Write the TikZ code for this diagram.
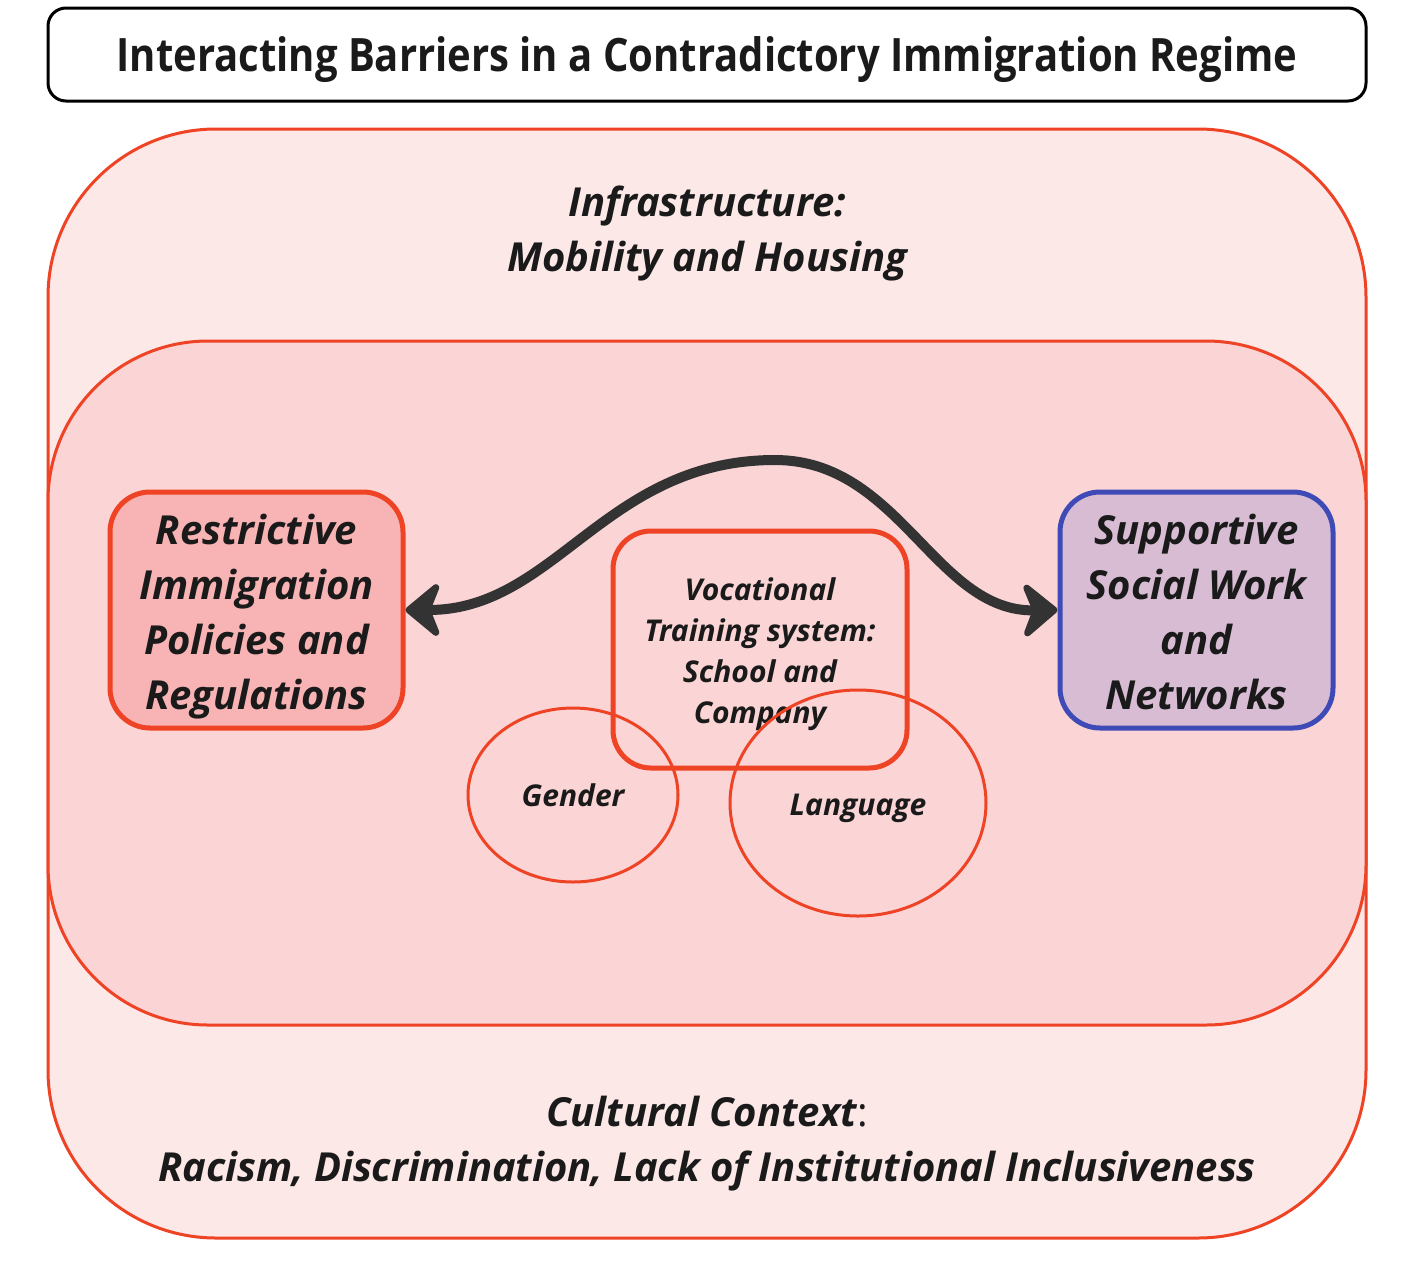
\documentclass[tikz,border=0pt]{standalone}
\usepackage{fontspec}
\setmainfont{Open Sans}
\newfontfamily\titlefont[FakeStretch=0.87]{Open Sans}
\usepackage{xcolor}
\usepackage{tikz}
\usetikzlibrary{positioning, arrows.meta, shapes.geometric}

\definecolor{barred}{HTML}{EE4325}
\definecolor{barblue}{HTML}{3E4AB6}
\definecolor{outerpink}{HTML}{FDE8E8}
\definecolor{innerpink}{HTML}{FBD5D6}
\definecolor{restrpink}{HTML}{F8B4B4}
\definecolor{supplilac}{HTML}{D8BCD3}
\definecolor{arrowgray}{HTML}{333333}
\definecolor{ink}{HTML}{1A1A1A}

\begin{document}
\begin{tikzpicture}[x=1pt,y=-1pt,
    big/.style={font=\bfseries\itshape\fontsize{40}{55}\selectfont,text=ink,align=center},
    small/.style={font=\bfseries\itshape\fontsize{30}{41}\selectfont,text=ink,align=center},
    layer/.style={draw=barred,line width=3pt,rectangle,rounded corners=168pt,minimum width=1318pt,inner sep=0pt},
    barrier/.style={big,draw=barred,line width=5pt,rectangle,rounded corners=40pt,inner sep=0pt,
                    text height=198pt,text depth=0pt,minimum width=293pt,minimum height=236pt},
    factor/.style={small,draw=barred,line width=3pt,ellipse,inner sep=0pt},
    bigtip/.tip={Stealth[length=40pt,width=66pt,inset=13pt,round]}]
    \fill[white] (0,0) rectangle (1414,1286);
    \useasboundingbox (0,0) rectangle (1414,1286);

    % title
    \node[draw=black,line width=3pt,rounded corners=18pt,minimum width=1318pt,minimum height=93pt,
          text depth=0pt,font=\titlefont\bfseries\fontsize{46}{50}\selectfont,text=ink] (title) at (707,54.5)
          {Interacting Barriers in a Contradictory Immigration Regime};

    % nested contexts
    \node[layer,fill=outerpink,minimum height=1109pt] (outer) at (707,683.5) {};
    \node[layer,fill=innerpink,minimum height=684pt,rounded corners=160pt] (inner) at (707,683) {};

    \node[big] (infra) at (707,233) {Infrastructure:\\Mobility and Housing};
    \node[big] (culture) at (707,1144)
          {Cultural Context{\upshape\mdseries :}\\Racism, Discrimination, Lack of Institutional Inclusiveness};

    % actors
    \node[barrier,fill=restrpink] (restr) at (256.5,610)
          {Restrictive\\Immigration\\Policies and\\Regulations};
    \node[barrier,fill=supplilac,draw=barblue,minimum width=273pt] (supp) at (1196.5,610)
          {Supportive\\Social Work\\and\\Networks};

    % vocational training and its barriers
    \node[small,draw=barred,line width=5pt,rectangle,rounded corners=38pt,inner sep=0pt,
          text height=148pt,text depth=0pt,minimum width=294pt,minimum height=237pt] (voc) at (760,649.5)
          {Vocational\\Training system:\\School and\\Company};
    \node[factor,minimum width=210pt,minimum height=174pt] (gender) at (573,795) {Gender};
    \node[factor,text height=33pt,minimum width=256pt,minimum height=226pt] (lang) at (858,803) {Language};

    \coordinate (top) at (775,460);
    \draw[arrowgray,line width=10pt,line cap=round,bigtip-bigtip]
        (restr.east) .. controls +(150,0) and (605,460) .. (top)
        .. controls (900,460) and (935,612) .. (supp.west);
\end{tikzpicture}
\end{document}
